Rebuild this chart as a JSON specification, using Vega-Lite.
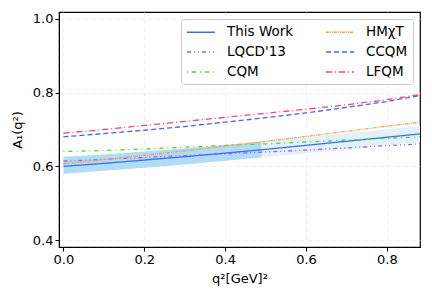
{
  "$schema": "https://vega.github.io/schema/vega-lite/v6.json",
  "width": 361,
  "height": 235,
  "autosize": {"type": "none"},
  "padding": {"left": 59, "top": 12, "right": 12, "bottom": 50},
  "background": "white",
  "config": {
    "font": "DejaVu Sans",
    "view": {"stroke": "black", "strokeWidth": 1.2},
    "axis": {
      "labelFont": "DejaVu Sans", "labelFontSize": 13, "labelColor": "black",
      "titleFont": "DejaVu Sans", "titleFontSize": 13, "titleColor": "black", "titleFontWeight": "normal",
      "domainColor": "black", "tickColor": "black", "tickSize": 4,
      "gridColor": "#e8e8e8", "gridDash": [4, 4], "gridWidth": 0.8
    }
  },
  "datasets": {
    "lines": [
      {"q2": 0.0, "v": 0.600, "model": "This Work"},
      {"q2": 0.1, "v": 0.608, "model": "This Work"},
      {"q2": 0.2, "v": 0.617, "model": "This Work"},
      {"q2": 0.3, "v": 0.626, "model": "This Work"},
      {"q2": 0.4, "v": 0.636, "model": "This Work"},
      {"q2": 0.5, "v": 0.646, "model": "This Work"},
      {"q2": 0.6, "v": 0.657, "model": "This Work"},
      {"q2": 0.7, "v": 0.668, "model": "This Work"},
      {"q2": 0.8, "v": 0.679, "model": "This Work"},
      {"q2": 0.9, "v": 0.690, "model": "This Work"},
      {"q2": 0.0, "v": 0.614, "model": "LQCD'13"},
      {"q2": 0.1, "v": 0.619, "model": "LQCD'13"},
      {"q2": 0.2, "v": 0.624, "model": "LQCD'13"},
      {"q2": 0.3, "v": 0.629, "model": "LQCD'13"},
      {"q2": 0.4, "v": 0.634, "model": "LQCD'13"},
      {"q2": 0.5, "v": 0.639, "model": "LQCD'13"},
      {"q2": 0.6, "v": 0.644, "model": "LQCD'13"},
      {"q2": 0.7, "v": 0.650, "model": "LQCD'13"},
      {"q2": 0.8, "v": 0.656, "model": "LQCD'13"},
      {"q2": 0.9, "v": 0.662, "model": "LQCD'13"},
      {"q2": 0.0, "v": 0.640, "model": "CQM"},
      {"q2": 0.1, "v": 0.643, "model": "CQM"},
      {"q2": 0.2, "v": 0.647, "model": "CQM"},
      {"q2": 0.3, "v": 0.652, "model": "CQM"},
      {"q2": 0.4, "v": 0.657, "model": "CQM"},
      {"q2": 0.5, "v": 0.661, "model": "CQM"},
      {"q2": 0.6, "v": 0.666, "model": "CQM"},
      {"q2": 0.7, "v": 0.671, "model": "CQM"},
      {"q2": 0.8, "v": 0.676, "model": "CQM"},
      {"q2": 0.9, "v": 0.681, "model": "CQM"},
      {"q2": 0.0, "v": 0.607, "model": "HMχT"},
      {"q2": 0.1, "v": 0.618, "model": "HMχT"},
      {"q2": 0.2, "v": 0.630, "model": "HMχT"},
      {"q2": 0.3, "v": 0.642, "model": "HMχT"},
      {"q2": 0.4, "v": 0.655, "model": "HMχT"},
      {"q2": 0.5, "v": 0.668, "model": "HMχT"},
      {"q2": 0.6, "v": 0.681, "model": "HMχT"},
      {"q2": 0.7, "v": 0.695, "model": "HMχT"},
      {"q2": 0.8, "v": 0.709, "model": "HMχT"},
      {"q2": 0.9, "v": 0.722, "model": "HMχT"},
      {"q2": 0.0, "v": 0.680, "model": "CCQM"},
      {"q2": 0.1, "v": 0.689, "model": "CCQM"},
      {"q2": 0.2, "v": 0.698, "model": "CCQM"},
      {"q2": 0.3, "v": 0.708, "model": "CCQM"},
      {"q2": 0.4, "v": 0.720, "model": "CCQM"},
      {"q2": 0.5, "v": 0.732, "model": "CCQM"},
      {"q2": 0.6, "v": 0.745, "model": "CCQM"},
      {"q2": 0.7, "v": 0.760, "model": "CCQM"},
      {"q2": 0.8, "v": 0.776, "model": "CCQM"},
      {"q2": 0.9, "v": 0.796, "model": "CCQM"},
      {"q2": 0.0, "v": 0.690, "model": "LFQM"},
      {"q2": 0.1, "v": 0.700, "model": "LFQM"},
      {"q2": 0.2, "v": 0.711, "model": "LFQM"},
      {"q2": 0.3, "v": 0.722, "model": "LFQM"},
      {"q2": 0.4, "v": 0.733, "model": "LFQM"},
      {"q2": 0.5, "v": 0.744, "model": "LFQM"},
      {"q2": 0.6, "v": 0.755, "model": "LFQM"},
      {"q2": 0.7, "v": 0.767, "model": "LFQM"},
      {"q2": 0.8, "v": 0.781, "model": "LFQM"},
      {"q2": 0.9, "v": 0.798, "model": "LFQM"}
    ],
    "band": [
      {"q2": 0.0, "lo": 0.580, "hi": 0.626, "part": "a"},
      {"q2": 0.1, "lo": 0.588, "hi": 0.632, "part": "a"},
      {"q2": 0.2, "lo": 0.596, "hi": 0.640, "part": "a"},
      {"q2": 0.3, "lo": 0.605, "hi": 0.649, "part": "a"},
      {"q2": 0.4, "lo": 0.615, "hi": 0.658, "part": "a"},
      {"q2": 0.49, "lo": 0.624, "hi": 0.667, "part": "a"},
      {"q2": 0.49, "lo": 0.624, "hi": 0.667, "part": "b"},
      {"q2": 0.6, "lo": 0.635, "hi": 0.679, "part": "b"},
      {"q2": 0.7, "lo": 0.646, "hi": 0.690, "part": "b"},
      {"q2": 0.8, "lo": 0.657, "hi": 0.701, "part": "b"},
      {"q2": 0.9, "lo": 0.668, "hi": 0.712, "part": "b"}
    ]
  },
  "encoding": {
    "x": {
      "field": "q2", "type": "quantitative",
      "scale": {"domain": [-0.011, 0.882], "nice": false, "zero": false},
      "axis": {"values": [0, 0.2, 0.4, 0.6, 0.8], "format": ".1f", "title": "q²[GeV]²", "titlePadding": 6}
    }
  },
  "layer": [
    {
      "data": {"name": "band"},
      "transform": [{"filter": "datum.part == 'b'"}],
      "mark": {"type": "area", "color": "#e2f1fb", "clip": true},
      "encoding": {
        "y": {"field": "lo", "type": "quantitative",
          "scale": {"domain": [0.381, 1.019], "nice": false, "zero": false},
          "axis": {"values": [0.4, 0.6, 0.8, 1.0], "format": ".1f", "title": "A₁(q²)", "titlePadding": 8}},
        "y2": {"field": "hi"}
      }
    },
    {
      "data": {"name": "band"},
      "transform": [{"filter": "datum.part == 'a'"}],
      "mark": {"type": "area", "color": "#b0dcf6", "clip": true},
      "encoding": {
        "y": {"field": "lo", "type": "quantitative"},
        "y2": {"field": "hi"}
      }
    },
    {
      "data": {"name": "lines"},
      "mark": {"type": "line", "strokeWidth": 1.3, "clip": true},
      "encoding": {
        "y": {"field": "v", "type": "quantitative"},
        "color": {
          "field": "model", "type": "nominal",
          "scale": {
            "domain": ["This Work", "LQCD'13", "CQM", "HMχT", "CCQM", "LFQM"],
            "range": ["#3f6fe6", "#9d5cf5", "#44dd22", "#ff9a4a", "#4466ee", "#ff3f6e"]
          },
          "legend": {
            "title": null, "orient": "top-right", "columns": 2, "columnPadding": 29,
            "offset": 7, "padding": 5, "rowPadding": 5,
            "fillColor": "white", "strokeColor": "#cccccc", "cornerRadius": 3,
            "symbolType": "M-1,0H3", "symbolSize": 196, "symbolStrokeWidth": 1.5,
            "labelFont": "DejaVu Sans", "labelFontSize": 13.5, "labelColor": "black", "labelOffset": 25
          }
        },
        "strokeDash": {
          "field": "model", "type": "nominal",
          "scale": {
            "domain": ["This Work", "LQCD'13", "CQM", "HMχT", "CCQM", "LFQM"],
            "range": [[1, 0], [4, 3, 1, 3, 1, 3], [1, 4, 4, 4], [3, 1, 1, 1, 1, 1], [5, 3], [6, 3, 1, 3]]
          }
        }
      }
    }
  ]
}
